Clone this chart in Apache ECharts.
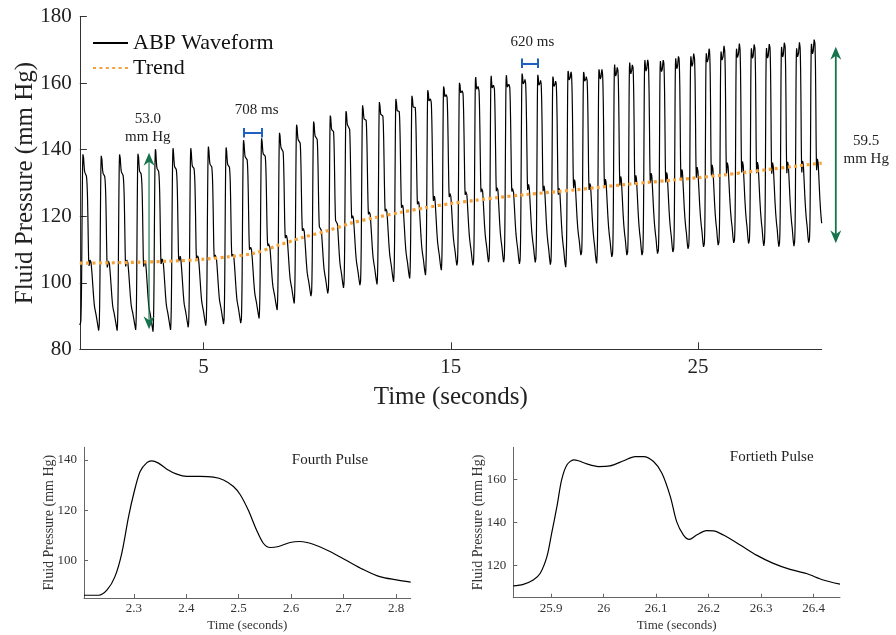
<!DOCTYPE html>
<html>
<head>
<meta charset="utf-8">
<script src="https://cdn.jsdelivr.net/npm/echarts@6/dist/echarts.min.js"></script>
<style>
  html, body { margin: 0; padding: 0; background: #fff; }
  #chart { width: 896px; height: 635px; }
</style>
</head>
<body>
<div id="chart"></div>
<script>
// beat-by-beat values
var beatOnset = [0.03, 0.77, 1.51, 2.26, 2.96, 3.67, 4.39, 5.10, 5.82, 6.52, 7.25, 7.98, 8.67, 9.36, 10.04, 10.67,
  11.34, 12.02, 12.69, 13.34, 13.98, 14.62, 15.26, 15.91, 16.54, 17.15, 17.79, 18.43, 19.04, 19.65, 20.28, 20.90,
  21.53, 22.14, 22.75, 23.38, 24.00, 24.61, 25.24, 25.83, 26.46, 27.06, 27.67, 28.28, 28.89, 29.49]
var beatSys = [139.4, 138.7, 139.1, 139.4, 140.1, 140.4, 140.4, 140.9, 140.7, 142.6, 143.1, 144.9, 147.4, 148.5,
  150.2, 151.7, 153.5, 154.5, 155.5, 156.5, 158.2, 159.5, 160.8, 161.7, 162.2, 162.5, 163.2, 163.0, 162.5, 163.7,
  164.2, 164.5, 165.5, 166.2, 167.0, 167.0, 168.0, 169.0, 170.2, 171.0, 172.0, 172.2, 172.2, 172.5, 172.0, 173.5]
var beatDia = [87.3, 85.3, 85.6, 85.8, 85.3, 85.8, 86.3, 86.8, 87.3, 87.3, 89.3, 91.8, 93.8, 95.5, 96.3, 98.2,
  98.8, 99.5, 100.3, 101.3, 102.3, 103.8, 104.8, 104.8, 105.8, 105.8, 105.3, 105.8, 105.1, 104.7, 107.8, 105.8,
  107.3, 107.8, 107.8, 108.3, 108.8, 109.8, 110.4, 110.9, 111.6, 111.4, 110.9, 110.7, 110.9, 111.7, 111.7]

// trend line
var trendTime = [0, 2, 4, 5, 6, 7, 8, 9, 10, 11, 12, 13, 14, 15, 16, 17, 18, 19, 20, 21, 22, 23, 24, 25, 26, 27, 28, 29, 30]
var trendValue = [105.9, 106.1, 106.6, 107.1, 107.8, 108.8, 111.2, 113.6, 115.6, 118.0, 119.7, 121.2, 122.6, 123.8,
  124.8, 125.7, 126.5, 127.2, 127.9, 128.7, 129.5, 130.2, 130.9, 131.6, 132.4, 133.3, 134.2, 135.1, 136.0]

// fourth pulse (inset left)
var pulse4Time = [2.205, 2.233, 2.249, 2.264, 2.277, 2.290, 2.300, 2.312, 2.325, 2.334, 2.347, 2.363, 2.382, 2.401,
  2.426, 2.452, 2.471, 2.490, 2.503, 2.518, 2.534, 2.547, 2.560, 2.576, 2.598, 2.617, 2.642, 2.674, 2.706, 2.737,
  2.769, 2.801, 2.828]
var pulse4Value = [86.1, 86.1, 88.2, 93.5, 102.8, 117.4, 126.7, 135.4, 138.9, 139.6, 138.7, 136.3, 134.3, 133.4,
  133.4, 133.1, 132.0, 129.4, 126.1, 120.1, 112.1, 106.8, 105.1, 105.5, 107.1, 107.5, 106.4, 103.5, 99.9, 96.4,
  93.5, 92.2, 91.3]
var pulse4Onset = 2.233
var pulse4Period = 0.708

// fortieth pulse (inset right)
var pulse40Time = [25.828, 25.847, 25.866, 25.879, 25.892, 25.901, 25.911, 25.920, 25.930, 25.943, 25.952, 25.968,
  25.990, 26.012, 26.038, 26.060, 26.076, 26.095, 26.111, 26.127, 26.139, 26.152, 26.163, 26.177, 26.196, 26.209,
  26.228, 26.260, 26.291, 26.323, 26.355, 26.386, 26.418, 26.450]
var pulse40Value = [110.7, 111.4, 113.4, 116.4, 124.2, 135.0, 147.3, 159.7, 166.6, 169.0, 168.6, 167.1, 165.9, 166.2,
  168.6, 170.5, 170.5, 168.2, 162.8, 152.0, 140.4, 134.2, 132.2, 134.2, 136.2, 136.1, 134.2, 129.6, 124.9, 121.1,
  118.3, 116.4, 113.4, 111.5]
var pulse40Onset = 25.845
var pulse40Period = 0.620

var xTicksMain = [5, 15, 25]
var yTicksMain = [80, 100, 120, 140, 160, 180]
var xTicks4 = [2.3, 2.4, 2.5, 2.6, 2.7, 2.8]
var yTicks4 = [100, 120, 140]
var xTicks40 = [25.9, 26, 26.1, 26.2, 26.3, 26.4]
var yTicks40 = [120, 140, 160]

var FONT = 'Liberation Serif'
var tEnd = 30

function interp (xs, ys, x) {
  if (x <= xs[0]) return ys[0]
  for (var k = 1; k < xs.length; k++) {
    if (x <= xs[k]) {
      var f = (x - xs[k - 1]) / (xs[k] - xs[k - 1])
      return ys[k - 1] + f * (ys[k] - ys[k - 1])
    }
  }
  return ys[ys.length - 1]
}

// normalised pulse shape, 0 at the foot, 1 at the top
function shape (times, values, onset, period, u) {
  var base = interp(times, values, onset)
  var top = Math.max.apply(null, values)
  var last = times[times.length - 1]
  var tau = onset + u * period
  if (tau <= last) return (interp(times, values, tau) - base) / (top - base)
  var uLast = (last - onset) / period
  var dLast = (values[values.length - 1] - base) / (top - base)
  return dLast * (1 - u) / (1 - uLast)
}

function buildWave () {
  var out = [[0, beatDia[0]]]
  var n = beatOnset.length
  for (var i = 0; i < n; i++) {
    var t0 = beatOnset[i]
    var P = i < n - 1 ? beatOnset[i + 1] - t0 : beatOnset[i] - beatOnset[i - 1]
    var w = Math.min(1, Math.max(0, (i + 1 - 4) / 36))
    var ds = []
    var mx = 0
    for (var k = 0; k <= 100; k++) {
      var u = k / 100
      var d = (1 - w) * shape(pulse4Time, pulse4Value, pulse4Onset, pulse4Period, u) +
        w * shape(pulse40Time, pulse40Value, pulse40Onset, pulse40Period, u)
      ds.push(d)
      if (d > mx) mx = d
    }
    for (k = 0; k < 100; k++) {
      u = k / 100
      var t = t0 + u * P
      if (t > tEnd) break
      var v = beatDia[i] + (beatDia[i + 1] - beatDia[i]) * u + (beatSys[i] - beatDia[i]) * ds[k] / mx
      out.push([t, v])
    }
  }
  return out
}

function zip (a, b) {
  return a.map(function (x, i) { return [x, b[i]] })
}

var chart = echarts.init(document.getElementById('chart'))

var axisText = { fontFamily: FONT, color: '#222' }

function insetX (grid, min, max, ticks) {
  return {
    gridIndex: grid, type: 'value', min: min, max: max,
    name: 'Time (seconds)', nameLocation: 'middle', nameGap: 21,
    nameTextStyle: { fontFamily: FONT, fontSize: 13, color: '#333' },
    axisLine: { lineStyle: { color: '#666' } },
    axisTick: { inside: true, length: 4, customValues: ticks, lineStyle: { color: '#666' } },
    axisLabel: { customValues: ticks, fontFamily: FONT, fontSize: 13, color: '#333', margin: 4 },
    splitLine: { show: false }
  }
}
function insetY (grid, min, max, ticks) {
  return {
    gridIndex: grid, type: 'value', min: min, max: max,
    name: 'Fluid Pressure (mm Hg)', nameLocation: 'middle', nameGap: 28, nameMoveOverlap: false,
    nameTextStyle: { fontFamily: FONT, fontSize: 14, color: '#333' },
    axisLine: { show: true, lineStyle: { color: '#666' } },
    axisTick: { show: true, inside: true, length: 4, customValues: ticks, lineStyle: { color: '#666' } },
    axisLabel: { customValues: ticks, fontFamily: FONT, fontSize: 13, color: '#333', margin: 7 },
    splitLine: { show: false }
  }
}

var green = '#17734c'
var blue = '#2060c0'
var orange = '#f6a238'

chart.setOption({
  animation: false,
  legend: {
    data: ['ABP Waveform', 'Trend'],
    orient: 'vertical',
    left: 87,
    top: 27,
    itemWidth: 35,
    itemHeight: 12,
    itemGap: 3,
    textStyle: { fontFamily: FONT, fontSize: 22, color: '#111' }
  },
  grid: [
    { left: 79.8, right: 74.3, top: 16.7, bottom: 285.7, outerBoundsMode: 'none' },
    { left: 84, right: 485.3, top: 447.3, bottom: 37, outerBoundsMode: 'none' },
    { left: 513.3, right: 56, top: 447.3, bottom: 37.3, outerBoundsMode: 'none' }
  ],
  xAxis: [
    {
      gridIndex: 0, type: 'value', min: 0, max: 30,
      name: 'Time (seconds)', nameLocation: 'middle', nameGap: 36,
      nameTextStyle: { fontFamily: FONT, fontSize: 25, color: '#222' },
      axisLine: { lineStyle: { color: '#333' } },
      axisTick: { inside: true, length: 7, customValues: xTicksMain, lineStyle: { color: '#333' } },
      axisLabel: Object.assign({ customValues: xTicksMain, fontSize: 21, margin: 8 }, axisText),
      splitLine: { show: false }
    },
    insetX(1, 2.205, 2.828, xTicks4),
    insetX(2, 25.828, 26.45, xTicks40)
  ],
  yAxis: [
    {
      gridIndex: 0, type: 'value', min: 80, max: 180, interval: 20,
      name: 'Fluid Pressure (mm Hg)', nameLocation: 'middle', nameGap: 42, nameMoveOverlap: false,
      nameTextStyle: { fontFamily: FONT, fontSize: 25, color: '#222' },
      axisLine: { show: true, lineStyle: { color: '#333' } },
      axisTick: { show: true, inside: true, length: 7, lineStyle: { color: '#333' } },
      axisLabel: Object.assign({ customValues: yTicksMain, fontSize: 21, margin: 8 }, axisText),
      splitLine: { show: false }
    },
    insetY(1, 85, 145, yTicks4),
    insetY(2, 105.2, 174.8, yTicks40)
  ],
  series: [
    {
      name: 'ABP Waveform', type: 'line', xAxisIndex: 0, yAxisIndex: 0,
      data: buildWave(), showSymbol: false, symbol: 'none',
      lineStyle: { color: '#000', width: 1.2 }, itemStyle: { color: '#000', opacity: 0 }
    },
    {
      name: 'Trend', type: 'line', xAxisIndex: 0, yAxisIndex: 0,
      data: zip(trendTime, trendValue), smooth: 0.3, showSymbol: false, symbol: 'none',
      lineStyle: { color: orange, width: 3.2, type: [3, 3.4] },
      itemStyle: { color: orange, opacity: 0 }
    },
    {
      name: 'brackets', type: 'line', xAxisIndex: 0, yAxisIndex: 0, data: [],
      markLine: {
        silent: true, animation: false, symbol: 'none',
        label: { show: false },
        lineStyle: { color: blue, width: 2, type: 'solid' },
        data: [
          [{ coord: [6.62, 145.1] }, { coord: [7.37, 145.1] }],
          [{ coord: [6.62, 143.7] }, { coord: [6.62, 146.5] }],
          [{ coord: [7.37, 143.7] }, { coord: [7.37, 146.5] }],
          [{ coord: [17.89, 166.0] }, { coord: [18.52, 166.0] }],
          [{ coord: [17.89, 164.6] }, { coord: [17.89, 167.4] }],
          [{ coord: [18.52, 164.6] }, { coord: [18.52, 167.4] }]
        ]
      }
    },
    {
      name: 'Fourth Pulse', type: 'line', xAxisIndex: 1, yAxisIndex: 1,
      data: zip(pulse4Time, pulse4Value), smooth: 0.3, showSymbol: false,
      lineStyle: { color: '#000', width: 1.2 }
    },
    {
      name: 'Fortieth Pulse', type: 'line', xAxisIndex: 2, yAxisIndex: 2,
      data: zip(pulse40Time, pulse40Value), smooth: 0.3, showSymbol: false,
      lineStyle: { color: '#000', width: 1.2 }
    }
  ]
})

// text annotations anchored to data positions
function txt (grid, pt, str, size, align) {
  var p = chart.convertToPixel({ gridIndex: grid }, pt)
  return {
    type: 'text', x: p[0], y: p[1], z: 100,
    style: {
      text: str, fontFamily: FONT, fontSize: size, fill: '#222',
      align: align || 'center', verticalAlign: 'middle', lineHeight: size + 3
    }
  }
}
// double-headed vertical arrow between two values at time t
function arrow (t, lo, hi, lineOpacity) {
  var a = chart.convertToPixel({ gridIndex: 0 }, [t, hi])
  var b = chart.convertToPixel({ gridIndex: 0 }, [t, lo])
  var x = a[0]
  var hw = 5.5
  var hl = 13
  return [
    {
      type: 'line', z: 100,
      shape: { x1: x, y1: a[1] + 6, x2: x, y2: b[1] - 6 },
      style: { stroke: green, lineWidth: 1.8, opacity: lineOpacity }
    },
    {
      type: 'polygon', z: 101,
      shape: { points: [[x, a[1]], [x - hw, a[1] + hl], [x, a[1] + hl - 4], [x + hw, a[1] + hl]] },
      style: { fill: green }
    },
    {
      type: 'polygon', z: 101,
      shape: { points: [[x, b[1]], [x - hw, b[1] - hl], [x, b[1] - hl + 4], [x + hw, b[1] - hl]] },
      style: { fill: green }
    }
  ]
}
chart.setOption({
  graphic: [].concat(
    arrow(2.8, 86.0, 139.1, 0.65),
    arrow(30.57, 111.9, 171.0, 1),
    [
      txt(0, [2.75, 146.6], '53.0\nmm Hg', 15),
      txt(0, [7.15, 152.0], '708 ms', 15),
      txt(0, [18.3, 172.4], '620 ms', 15),
      txt(0, [31.8, 139.8], '59.5\nmm Hg', 15),
      txt(1, [2.674, 139.9], 'Fourth Pulse', 15),
      txt(2, [26.32, 170.2], 'Fortieth Pulse', 15)
    ]
  )
})
</script>
</body>
</html>
